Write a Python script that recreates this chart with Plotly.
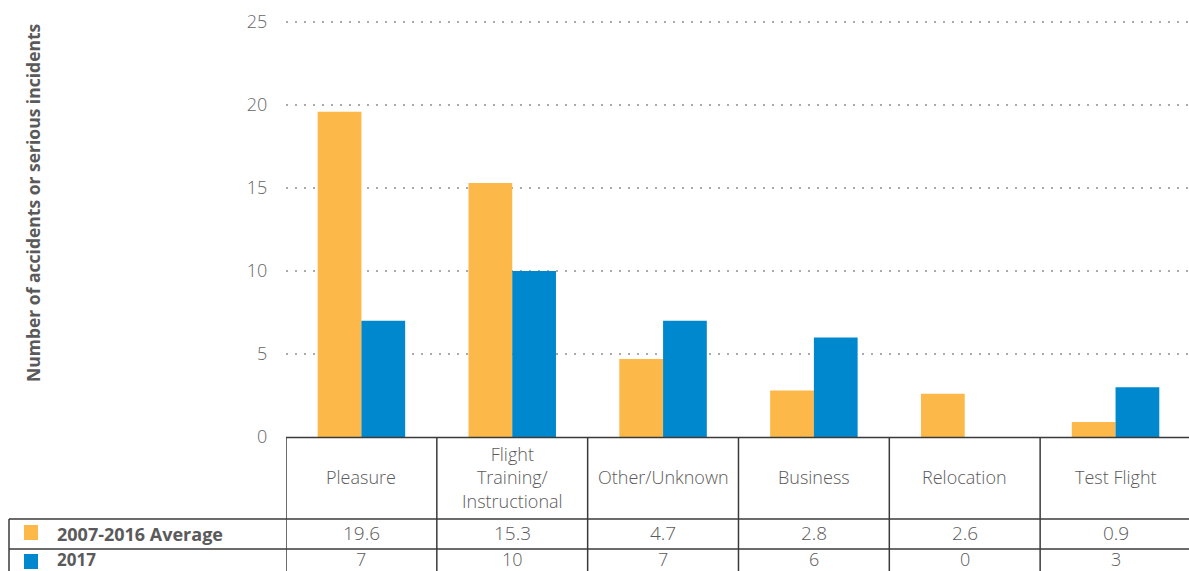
import plotly.graph_objects as go

categories = ["Pleasure", "Flight Training/ Instructional", "Other/Unknown", "Business", "Relocation", "Test Flight"]
header_labels = ["Pleasure", "Flight<br>Training/<br>Instructional", "Other/Unknown", "Business", "Relocation", "Test Flight"]
avg_values = [19.6, 15.3, 4.7, 2.8, 2.6, 0.9]
y2017_values = [7, 10, 7, 6, 0, 3]
avg_labels = ["19.6", "15.3", "4.7", "2.8", "2.6", "0.9"]
y2017_labels = ["7", "10", "7", "6", "0", "3"]
series_names = ["2007-2016 Average", "2017"]
y_ticks = [0, 5, 10, 15, 20, 25]

ORANGE = "rgb(252,184,72)"
BLUE = "rgb(0,136,207)"
TXT = "#5a5a5a"
BORDER = "#3a3a3a"
FONT = "Open Sans"

W, H = 1189, 571
L, R, T, B = 286, 0, 20, 134
PH = H - T - B
PW = W - L - R

def py(pix):
    return (H - B - pix) / PH

def px(pix):
    return (pix - L) / PW

fig = go.Figure()
fig.add_trace(go.Bar(x=categories, y=avg_values, name=series_names[0],
                     marker=dict(color=ORANGE, line=dict(width=0))))
fig.add_trace(go.Bar(x=categories, y=y2017_values, name=series_names[1],
                     marker=dict(color=BLUE, line=dict(width=0))))

shapes = []
line = dict(color=BORDER, width=1.5)
y_head_top = py(437.5)
y_r1 = py(519)
y_r2 = py(549)
y_bot = py(575)
n = len(categories)
for i in range(n + 1):
    shapes.append(dict(type="line", xref="x", yref="paper", x0=i - 0.5, x1=i - 0.5,
                       y0=y_head_top, y1=y_bot, line=line))
shapes.append(dict(type="line", xref="paper", yref="paper", x0=0, x1=1.01,
                   y0=y_head_top, y1=y_head_top, line=line))
for yy in (y_r1, y_r2):
    shapes.append(dict(type="line", xref="paper", yref="paper", x0=px(9), x1=1.01,
                       y0=yy, y1=yy, line=line))
shapes.append(dict(type="line", xref="paper", yref="paper", x0=px(9), x1=px(9),
                   y0=y_r1, y1=y_bot, line=line))
for color, cy in ((ORANGE, 533), (BLUE, 562)):
    shapes.append(dict(type="rect", xref="paper", yref="paper", x0=px(24), x1=px(38),
                       y0=py(cy - 8), y1=py(cy + 7), fillcolor=color, line=dict(width=0)))

annotations = []
for cat, lab in zip(categories, header_labels):
    annotations.append(dict(x=cat, xref="x", y=py(477), yref="paper", text=lab,
                            showarrow=False,
                            font=dict(family=FONT, size=18, color=TXT, weight=300),
                            xanchor="center", yanchor="middle"))
for cat, a, b in zip(categories, avg_labels, y2017_labels):
    annotations.append(dict(x=cat, xref="x", y=py(533), yref="paper", text=a, showarrow=False,
                            font=dict(family=FONT, size=19, color=TXT, weight=300),
                            xanchor="center", yanchor="middle"))
    annotations.append(dict(x=cat, xref="x", y=py(559), yref="paper", text=b, showarrow=False,
                            font=dict(family=FONT, size=18, color=TXT, weight=300),
                            xanchor="center", yanchor="middle"))
for name, cy, sz in zip(series_names, (534, 559), (18, 17)):
    annotations.append(dict(x=px(55), xref="paper", y=py(cy), yref="paper", text="<b>" + name + "</b>",
                            showarrow=False, font=dict(family=FONT, size=sz, color=TXT),
                            xanchor="left", yanchor="middle"))
annotations.append(dict(x=px(33), xref="paper", y=py(202), yref="paper",
                        text="<b>Number of accidents or serious incidents</b>", textangle=-90,
                        showarrow=False, font=dict(family=FONT, size=17.5, color=TXT),
                        xanchor="center", yanchor="middle"))

fig.update_layout(
    width=W, height=H,
    margin=dict(l=L, r=R, t=T, b=B, pad=0),
    paper_bgcolor="white", plot_bgcolor="white",
    barmode="group", bargap=0.42, bargroupgap=0,
    showlegend=False,
    font=dict(family=FONT, color=TXT),
    xaxis=dict(range=[-0.5, n - 0.513], showticklabels=False, showgrid=False, zeroline=False,
               showline=False, fixedrange=True),
    yaxis=dict(range=[0, 25.12], tickvals=y_ticks, showgrid=True, gridcolor="#aaaaaa", gridwidth=2,
               griddash="2px,7px", zeroline=False, showline=False,
               ticks="outside", ticklen=14, tickcolor="rgba(0,0,0,0)",
               tickfont=dict(family=FONT, size=18, color="#666666", weight=300)),
    shapes=shapes, annotations=annotations,
)

fig.write_html("out.html", config={"displayModeBar": False},
               post_script="document.body.style.margin='0';document.body.style.overflow='hidden';")
